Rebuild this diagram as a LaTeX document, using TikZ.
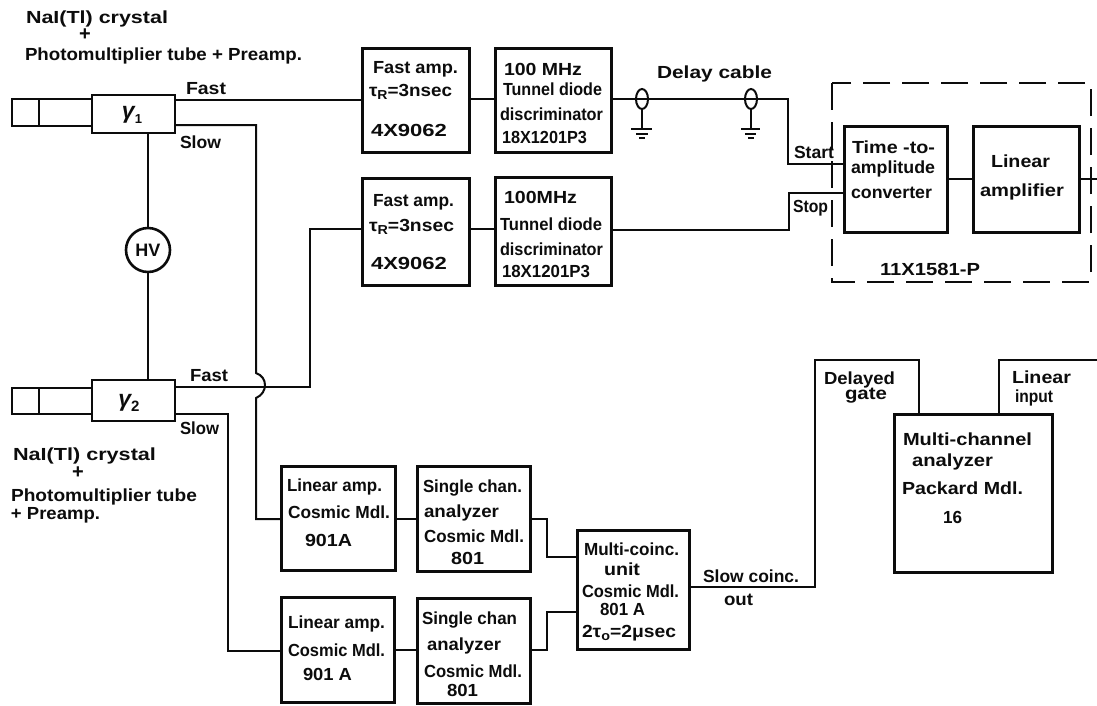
\documentclass[tikz,border=0pt]{standalone}
\usepackage{fontspec}
\usepackage{graphicx}
\usetikzlibrary{shapes.geometric}
\setmainfont{Liberation Sans}[BoldFont={Liberation Sans Bold},BoldItalicFont={Liberation Sans Bold Italic}]
\definecolor{inkc}{RGB}{12,12,12}
\tikzset{
  box/.style={draw=inkc,line width=3pt,rectangle,inner sep=0pt,outer sep=0pt},
  thinbox/.style={draw=inkc,line width=2.4pt,rectangle,inner sep=0pt,outer sep=0pt},
  wire/.style={draw=inkc,line width=2pt,line join=miter},
  lbl/.style={anchor=base west,inner sep=0pt,outer sep=0pt,text=inkc,font=\fontsize{17.5}{19}\selectfont\bfseries},
  plus/.style={anchor=center,inner sep=0pt,outer sep=0pt,text=inkc,font=\fontsize{20}{21}\selectfont\bfseries},
  cable/.style={draw=inkc,line width=2pt,ellipse,inner sep=0pt,outer sep=0pt,minimum width=12pt,minimum height=20pt},
  dashbox/.style={draw=inkc,line width=2pt,dash pattern=on 27pt off 12pt},
  hvc/.style={draw=inkc,line width=2.6pt,circle,inner sep=0pt,outer sep=0pt,minimum size=44pt,text=inkc,font=\fontsize{18}{19}\selectfont\bfseries},
  gam/.style={inner sep=0pt,text=inkc,font=\fontsize{23}{24}\selectfont\bfseries\itshape}
}
% name, x, baseline y, width, text
\newcommand{\tl}[5]{\node[lbl] (#1) at (#2,#3) {\resizebox{#4pt}{\height}{#5}};}
% name, style, x1, y1, x2, y2
\newcommand{\bx}[6]{%
  \pgfmathsetmacro{\bcx}{(#3+#5)/2}\pgfmathsetmacro{\bcy}{(#4+#6)/2}%
  \pgfmathsetmacro{\bw}{#5-#3}\pgfmathsetmacro{\bh}{#6-#4}%
  \node[#2,minimum width=\bw pt,minimum height=\bh pt] (#1) at (\bcx,\bcy) {};}
\newcommand{\tauR}{τ\raisebox{-3.5pt}{\fontsize{13}{14}\selectfont R}}
\begin{document}
\begin{tikzpicture}[x=1pt,y=-1pt]
\useasboundingbox (0,0) rectangle (1097,705);
\fill[white] (0,0) rectangle (1097,705);
% detector 1
\bx{tubeAa}{thinbox}{12}{99}{39}{126}
\bx{tubeAb}{thinbox}{39}{99}{92}{126}
\bx{gA}{thinbox}{92}{95}{175}{133}
\node[gam] (gAt) at (132,115) {γ\raisebox{-5pt}{\fontsize{13}{14}\selectfont\upshape 1}};
% detector 2
\bx{tubeBa}{thinbox}{12}{388}{39}{414}
\bx{tubeBb}{thinbox}{39}{388}{92}{414}
\bx{gB}{thinbox}{92}{380}{175}{421}
\node[gam] (gBt) at (129,403) {γ\raisebox{-5pt}{\fontsize{15}{16}\selectfont\upshape 2}};
% HV
\node[hvc] (hv) at (148,250) {HV};
% boxes
\bx{faA}{box}{362}{48}{469}{152}
\bx{faB}{box}{362}{178}{469}{285}
\bx{tdA}{box}{495}{48}{611}{152}
\bx{tdB}{box}{495}{177}{611}{285}
\bx{tac}{box}{844}{126}{947}{232}
\bx{lin}{box}{973}{126}{1079}{232}
\bx{laA}{box}{281}{466}{395}{570}
\bx{laB}{box}{281}{597}{394}{702}
\bx{scA}{box}{417}{466}{530}{571}
\bx{scB}{box}{417}{598}{530}{703}
\bx{mc}{box}{577}{530}{689}{649}
\bx{mca}{box}{894}{414}{1052}{572}
% dashed enclosure
\draw[dashbox] (832,83) rectangle (1091,282);
% cable shields
\node[cable] (cbA) at (642,99) {};
\node[cable] (cbB) at (751,99) {};
\coordinate (gndA) at (642,129);
\coordinate (gndB) at (751,129);
\coordinate (rightA) at (1097,179);
\coordinate (rightB) at (1097,360);
% ground symbols
\draw[wire] (cbA.south) -- (gndA);
\draw[wire] (cbB.south) -- (gndB);
\draw[wire] (631,129) -- (652,129) (636,134) -- (648,134) (639,138) -- (645,138);
\draw[wire] (741,129) -- (760,129) (745,134) -- (756,134) (748,138) -- (754,138);
% connectors top
\draw[wire] (gA.east |- 0,100) -- (faA.west |- 0,100);
\draw[wire] (faA.east |- 0,99) -- (tdA.west |- 0,99);
\draw[wire] (faB.east |- 0,229) -- (tdB.west |- 0,229);
\draw[wire] (tdA.east |- 0,99) -- (788,99) -- (788,164) -- (tac.west |- 0,164);
\draw[wire] (tdB.east |- 0,230) -- (789,230) -- (789,193) -- (tac.west |- 0,193);
\draw[wire] (tac.east |- 0,179) -- (lin.west |- 0,179);
\draw[wire] (lin.east |- 0,179) -- (rightA);
% HV
\draw[wire] (gA.south -| hv.north) -- (hv.north);
\draw[wire] (hv.south) -- (gB.north -| hv.south);
% fast 2
\draw[wire] (gB.east |- 0,387) -- (310,387) -- (310,229) -- (faB.west |- 0,229);
% slow 1 with jump
\draw[wire] (gA.east |- 0,125) -- (256,125) -- (256,373) .. controls (268,377) and (268,393) .. (256,398) -- (256,519) -- (laA.west |- 0,519);
% slow 2
\draw[wire] (gB.east |- 0,414) -- (228,414) -- (228,651) -- (laB.west |- 0,651);
% lower chain
\draw[wire] (laA.east |- 0,519) -- (scA.west |- 0,519);
\draw[wire] (laB.east |- 0,650) -- (scB.west |- 0,650);
\draw[wire] (scA.east |- 0,519) -- (547,519) -- (547,557) -- (mc.west |- 0,557);
\draw[wire] (scB.east |- 0,650) -- (547,650) -- (547,612) -- (mc.west |- 0,612);
\draw[wire] (mc.east |- 0,587) -- (815,587) -- (815,360) -- (919,360) -- (mca.north -| 919,0);
\draw[wire] (mca.north -| 999,0) -- (999,360) -- (rightB);
% labels
\tl{nA}{26}{23}{142}{NaI(Tl) crystal}
\node[plus] (pA) at (85,35) {+};
\tl{phA}{25}{60}{277}{Photomultiplier tube + Preamp.}
\tl{fastA}{186}{94}{40}{Fast}
\tl{slowA}{180}{148}{41}{Slow}
\tl{fa1}{373}{73}{85}{Fast amp.}
\tl{fa2}{369}{96}{83}{\tauR=3nsec}
\tl{fa3}{371}{136}{76}{4X9062}
\tl{fb1}{373}{206}{81}{Fast amp.}
\tl{fb2}{369}{231}{85}{\tauR=3nsec}
\tl{fb3}{371}{269}{76}{4X9062}
\tl{ta1}{504}{75}{78}{100 MHz}
\tl{ta2}{503}{95}{99}{Tunnel diode}
\tl{ta3}{500}{120}{103}{discriminator}
\tl{ta4}{502}{143}{85}{18X1201P3}
\tl{tb1}{504}{203}{73}{100MHz}
\tl{tb2}{500}{230}{102}{Tunnel diode}
\tl{tb3}{500}{255}{103}{discriminator}
\tl{tb4}{502}{277}{88}{18X1201P3}
\tl{dc}{657}{78}{115}{Delay cable}
\tl{st}{794}{158}{40}{Start}
\tl{sp}{793}{212}{35}{Stop}
\tl{t1}{852}{153}{83}{Time -to-}
\tl{t2}{851}{173}{84}{amplitude}
\tl{t3}{851}{198}{81}{converter}
\tl{l1}{991}{167}{59}{Linear}
\tl{l2}{980}{196}{84}{amplifier}
\tl{pn}{880}{275}{100}{11X1581-P}
\tl{fastB}{190}{381}{38}{Fast}
\tl{slowB}{180}{434}{39}{Slow}
\tl{nB}{13}{460}{143}{NaI(Tl) crystal}
\node[plus] (pB) at (78,473) {+};
\tl{phB}{11}{501}{186}{Photomultiplier tube}
\tl{prB}{11}{519}{89}{+ Preamp.}
\tl{a1}{287}{491}{95}{Linear amp.}
\tl{a2}{288}{518}{102}{Cosmic Mdl.}
\tl{a3}{305}{546}{47}{901A}
\tl{b1}{288}{628}{97}{Linear amp.}
\tl{b2}{288}{656}{97}{Cosmic Mdl.}
\tl{b3}{303}{680}{49}{901 A}
\tl{c1}{423}{492}{99}{Single chan.}
\tl{c2}{424}{517}{75}{analyzer}
\tl{c3}{424}{542}{100}{Cosmic Mdl.}
\tl{c4}{451}{564}{33}{801}
\tl{d1}{422}{624}{95}{Single chan}
\tl{d2}{427}{650}{74}{analyzer}
\tl{d3}{424}{677}{98}{Cosmic Mdl.}
\tl{d4}{447}{696}{31}{801}
\tl{m1}{584}{555}{95}{Multi-coinc.}
\tl{m2}{604}{575}{36}{unit}
\tl{m3}{582}{597}{97}{Cosmic Mdl.}
\tl{m4}{600}{615}{45}{801 A}
\tl{m5}{582}{637}{94}{2τ\raisebox{-3.5pt}{\fontsize{13}{14}\selectfont o}=2μsec}
\tl{sc1}{703}{582}{96}{Slow coinc.}
\tl{sc2}{724}{605}{29}{out}
\tl{dg1}{824}{384}{71}{Delayed}
\tl{dg2}{845}{399}{42}{gate}
\tl{li1}{1012}{383}{59}{Linear}
\tl{li2}{1015}{402}{38}{input}
\tl{ma1}{903}{445}{129}{Multi-channel}
\tl{ma2}{912}{466}{81}{analyzer}
\tl{ma3}{902}{494}{121}{Packard Mdl.}
\tl{ma4}{943}{523}{19}{16}
\end{tikzpicture}
\end{document}
